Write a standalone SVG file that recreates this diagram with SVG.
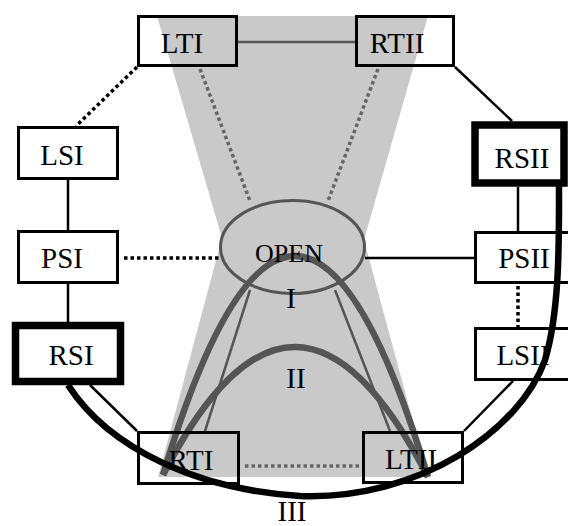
<svg xmlns="http://www.w3.org/2000/svg" width="568" height="526" viewBox="0 0 568 526">
<style>
.box{fill:none;stroke:#000;stroke-width:3}
.thick{fill:none;stroke:#000;stroke-width:7.5}
.lbl{font-family:"Liberation Serif","Times New Roman",serif;font-size:29px;fill:#000;text-anchor:middle}
.solid{stroke:#000;stroke-width:2.5;fill:none}
.dot{stroke:#000;stroke-width:3.5;stroke-dasharray:3.5 3;fill:none}
.gdot{stroke:#666;stroke-width:3.5;stroke-dasharray:3.5 3;fill:none}
.gline{stroke:#555;stroke-width:2.5;fill:none}
.arc{stroke:#555;stroke-width:6.5;fill:none}
</style>
<rect width="568" height="526" fill="#fff"/>
<polygon id="hourglass" points="157,16 428,16 364,240 428,477 158,477 222,238" fill="#c9c9c9"/>
<g id="connectors">
<line class="gline" x1="238" y1="42" x2="355" y2="42"/>
<line class="dot" x1="137" y1="67" x2="76" y2="126"/>
<line class="solid" x1="455" y1="67" x2="512" y2="121"/>
<line class="solid" x1="68" y1="180" x2="68" y2="230"/>
<line class="solid" x1="68" y1="284" x2="68" y2="322"/>
<line class="dot" x1="124" y1="258" x2="219" y2="258"/>
<line class="solid" x1="365" y1="258" x2="474" y2="258"/>
<line class="solid" x1="518" y1="187" x2="518" y2="231"/>
<line class="dot" x1="518" y1="286" x2="518" y2="327"/>
<line class="gdot" x1="200" y1="69" x2="250" y2="201"/>
<line class="gdot" x1="378" y1="69" x2="328" y2="201"/>
<line class="gdot" x1="245" y1="466" x2="362" y2="466"/>
<line class="solid" x1="90" y1="385" x2="137" y2="431"/>
<line class="solid" x1="513" y1="381" x2="464" y2="431"/>
<line class="gline" x1="250" y1="290" x2="205" y2="431"/>
<line class="gline" x1="335" y1="290" x2="390" y2="431"/>
<path class="arc" d="M163,475 Q295,36 428,477"/>
<path class="arc" d="M163,475 Q295,218 428,477"/>
<path d="M68,385 C110,450 200,490 300,496 C420,500 520,430 545,360 C560,310 559,240 559,185" fill="none" stroke="#000" stroke-width="6.5"/>
</g>
<g id="LTI"><rect class="box" x="138.5" y="16.5" width="98" height="49"/><text class="lbl" x="182" y="53">LTI</text></g>
<g id="RTII"><rect class="box" x="356.5" y="16.5" width="97" height="49"/><text class="lbl" x="397" y="53">RTII</text></g>
<g id="LSI"><rect class="box" x="18.5" y="127.5" width="99" height="51"/><text class="lbl" x="62" y="165">LSI</text></g>
<g id="PSI"><rect class="box" x="18.5" y="231.5" width="99" height="51"/><text class="lbl" x="62" y="268">PSI</text></g>
<g id="RSI"><rect class="thick" x="15.5" y="325.5" width="105" height="56"/><text class="lbl" x="71" y="365">RSI</text></g>
<g id="RSII"><rect class="thick" x="475" y="125" width="89" height="58"/><text class="lbl" x="522" y="168">RSII</text></g>
<g id="PSII"><rect class="box" x="475.5" y="232.5" width="100" height="50"/><text class="lbl" x="524" y="268">PSII</text></g>
<g id="LSII"><rect class="box" x="475.5" y="328.5" width="100" height="51"/><text class="lbl" x="523" y="365">LSII</text></g>
<g id="RTI"><rect class="box" x="138.5" y="432.5" width="100" height="51"/><text class="lbl" x="191" y="470">RTI</text></g>
<g id="LTII"><rect class="box" x="363.5" y="432.5" width="99" height="50"/><text class="lbl" x="411" y="469">LTII</text></g>
<g id="OPEN"><ellipse cx="292.5" cy="247" rx="72" ry="46.5" fill="none" stroke="#555" stroke-width="3"/><text class="lbl" x="289" y="262" style="font-size:26px">OPEN</text></g>
<g id="labels">
<text class="lbl" x="291" y="308">I</text>
<text class="lbl" x="296" y="388">II</text>
<text class="lbl" x="292" y="521">III</text>
</g>
</svg>
